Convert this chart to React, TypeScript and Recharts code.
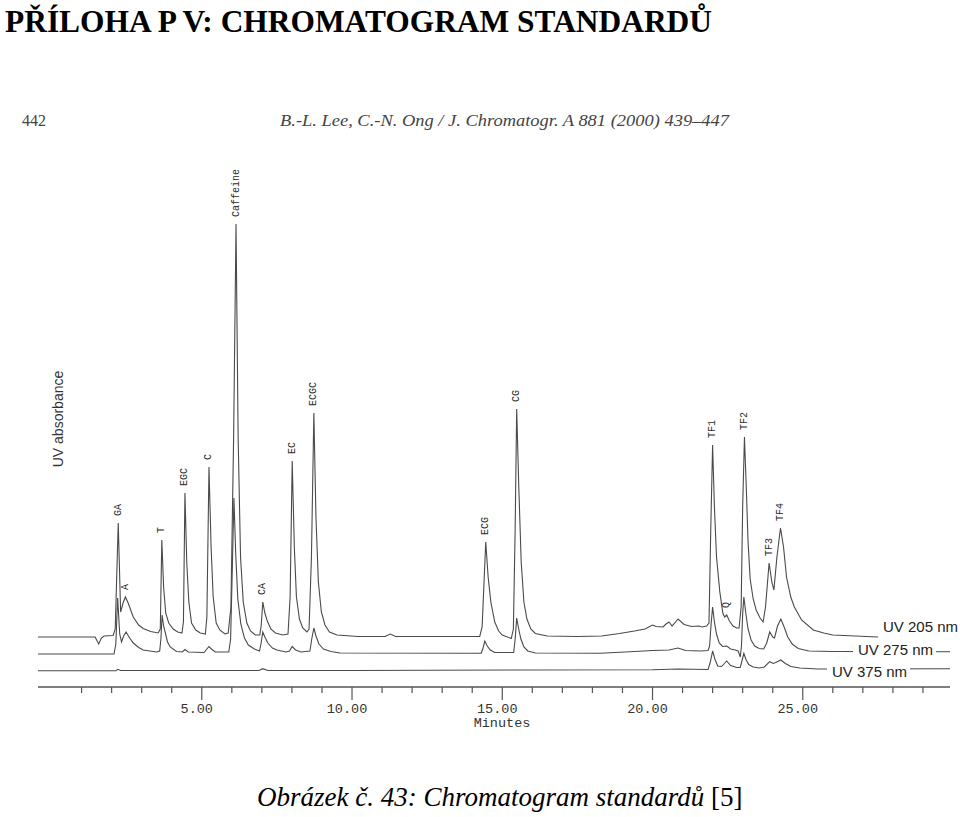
import React from 'react';
import { LineChart, Line, XAxis, YAxis, LabelList } from 'recharts';

// Chromatogram of the tea standards (Lee & Ong, J. Chromatogr. A 881 (2000) 439-447)
// each trace: [minutes, signal above its own baseline]
const UV205: [number, number][] = [
  [-0.45, 0], [1.45, 0], [1.57, -7], [1.66, -1], [1.75, 1], [2.05, 1.5],
  [2.12, 8], [2.22, 114], [2.3, 25], [2.38, 34], [2.46, 40], [2.55, 34], [2.72, 20], [2.9, 12],
  [3.05, 8.5], [3.3, 5.5], [3.55, 4],
  [3.62, 8], [3.67, 97], [3.73, 50], [3.8, 24], [3.9, 14], [4.05, 8], [4.2, 5], [4.34, 4],
  [4.39, 15], [4.44, 144], [4.5, 75], [4.57, 35], [4.66, 14], [4.8, 7], [4.95, 4], [5.12, 3],
  [5.17, 20], [5.24, 170], [5.31, 90], [5.38, 40], [5.48, 14], [5.6, 7], [5.77, 3],
  [5.88, 4], [5.97, 30], [6.06, 200], [6.14, 413], [6.21, 200], [6.29, 80], [6.38, 35], [6.5, 14],
  [6.62, 6], [6.78, 2],
  [6.93, 2], [6.98, 12], [7.03, 35], [7.1, 24], [7.18, 16], [7.3, 8], [7.45, 4], [7.7, 2],
  [7.87, 3], [7.94, 40], [8.01, 176], [8.08, 90], [8.15, 40], [8.25, 18], [8.36, 9], [8.5, 5],
  [8.57, 8], [8.65, 80], [8.73, 224], [8.8, 120], [8.88, 55], [8.98, 25], [9.1, 12], [9.25, 5], [9.5, 2],
  [10.2, 0.5], [11.1, 0.5], [11.27, 3], [11.45, 0.5],
  [14.25, 0.5], [14.33, 10], [14.45, 95], [14.53, 60], [14.62, 35], [14.75, 15], [14.88, 6], [15.0, 2], [15.3, -1.5],
  [15.37, 8], [15.43, 110], [15.48, 228], [15.55, 150], [15.63, 75], [15.72, 35], [15.82, 18], [15.95, 8],
  [16.1, 3.5], [16.5, 1],
  [17.5, 0.5], [18.3, 1], [18.9, 3.5], [19.4, 6], [19.75, 8], [20.0, 12], [20.12, 10.5], [20.35, 10],
  [20.45, 13], [20.55, 15], [20.65, 11], [20.85, 18], [21.05, 12.5], [21.3, 10.5], [21.55, 11], [21.65, 10], [21.8, 11],
  [21.88, 14], [21.94, 110], [22.0, 192], [22.06, 130], [22.13, 80], [22.24, 45], [22.34, 24], [22.4, 20],
  [22.47, 22], [22.56, 16], [22.68, 11], [22.8, 9], [22.88, 9],
  [22.95, 30], [23.0, 130], [23.06, 200], [23.12, 150], [23.18, 95], [23.25, 58], [23.35, 38], [23.45, 27],
  [23.58, 19], [23.68, 15],
  [23.76, 30], [23.88, 74], [23.97, 55], [24.04, 47], [24.14, 80], [24.26, 109], [24.36, 90], [24.46, 60],
  [24.6, 40], [24.72, 30], [24.96, 17], [25.35, 7], [25.7, 4], [26.0, 2], [27.5, 0], [29.9, 0],
];

const UV275: [number, number][] = [
  [-0.45, 0], [2.08, 0], [2.14, 10], [2.2, 56], [2.27, 20], [2.33, 12], [2.4, 18], [2.48, 22], [2.58, 17],
  [2.72, 11], [2.9, 6.5], [3.05, 4], [3.5, 2],
  [3.6, 3], [3.64, 15], [3.68, 39], [3.73, 28], [3.78, 22], [3.86, 12], [3.95, 7], [4.16, 2.5], [4.35, 2],
  [4.44, 4.5], [4.55, 2], [5.08, 1.5], [5.17, 5], [5.24, 7.5], [5.32, 5], [5.45, 2], [5.9, 2],
  [5.96, 15], [6.02, 90], [6.07, 156], [6.13, 100], [6.2, 55], [6.3, 30], [6.42, 16], [6.55, 9], [6.75, 5], [6.92, 3],
  [6.97, 10], [7.03, 22], [7.1, 17], [7.2, 11], [7.35, 6], [7.5, 4], [7.8, 2],
  [7.92, 3], [8.01, 7.5], [8.12, 4], [8.3, 2],
  [8.6, 3], [8.66, 15], [8.73, 26], [8.8, 18], [8.9, 10], [9.05, 5], [9.3, 2.5], [9.6, 1],
  [14.3, 0.7], [14.36, 6], [14.42, 13], [14.5, 8], [14.6, 4], [14.75, 1.5],
  [15.38, 1.5], [15.43, 15], [15.48, 36], [15.54, 26], [15.62, 15], [15.72, 7], [15.85, 3], [16.1, 1],
  [18.25, 0.7], [19.25, 2.3], [20.0, 3.5], [20.55, 4], [20.85, 6], [21.1, 3.5], [21.6, 3], [21.85, 3.5],
  [21.9, 8], [21.95, 30], [22.0, 47], [22.06, 32], [22.13, 20], [22.22, 11], [22.33, 7.5], [22.47, 8],
  [22.6, 5], [22.75, 4], [22.85, 3], [22.92, -3],
  [22.96, 8], [23.0, 40], [23.04, 57], [23.1, 42], [23.18, 25], [23.28, 14], [23.4, 8], [23.55, 5.5], [23.7, 5],
  [23.8, 11], [23.9, 22], [24.0, 17], [24.06, 16], [24.16, 28], [24.27, 35], [24.38, 27], [24.5, 17],
  [24.65, 10], [24.85, 5.5], [25.2, 3], [26.0, 2.5], [29.9, 2.3],
];

const UV375: [number, number][] = [
  [-0.45, -0.3], [2.15, -0.3], [2.2, 1.2], [2.3, 0], [6.9, 0], [7.03, 1.8], [7.2, 0], [10, 0],
  [15.48, 0.5], [20, 0.7], [20.85, 1.5], [21.85, 1],
  [21.92, 8], [22.0, 19.5], [22.08, 11], [22.17, 4.5], [22.3, 4], [22.47, 9.5], [22.6, 5], [22.8, 3],
  [22.92, 3], [22.98, 10], [23.04, 17], [23.11, 11], [23.2, 6], [23.35, 3.5], [23.55, 2.5], [23.72, 3.5],
  [23.9, 8.8], [24.02, 7], [24.1, 8], [24.27, 10.5], [24.42, 7], [24.6, 4], [24.9, 2.5], [25.5, 1.5], [29.9, 1.8],
];

// vertical stacking of the three detector channels
const TRACE_OFFSETS = { uv205: 50, uv275: 33, uv375: 16.5 };

const PEAK_NAMES = ['GA', 'A', 'T', 'EGC', 'C', 'Caffeine', 'CA', 'EC', 'ECGC', 'ECG', 'CG', 'TF1', 'Q', 'TF2', 'TF3', 'TF4'];
const PEAK_TIMES = [2.22, 2.46, 3.67, 4.44, 5.24, 6.14, 7.03, 8.01, 8.73, 14.45, 15.48, 22.0, 22.47, 23.06, 23.88, 24.26];

const MINUTE_TICKS = [1, 2, 3, 4, 5, 6, 7, 8, 9, 10, 11, 12, 13, 14, 15, 16, 17, 18, 19, 20, 21, 22, 23, 24, 25, 26, 27, 28, 29];

const TRACE_COLOR = '#4a4a4a';
const MONO = '"Liberation Mono", "DejaVu Sans Mono", monospace';
const SANS = '"Liberation Sans", Arial, sans-serif';
const SERIF = '"Liberation Serif", "Times New Roman", serif';

const toSeries = (pts: [number, number][], offset: number, withPeaks = false) =>
  pts.map(([t, v]) => {
    const k = withPeaks ? PEAK_TIMES.indexOf(t) : -1;
    return { t, v: v + offset, peak: k >= 0 ? PEAK_NAMES[k] : undefined };
  });

const data205 = toSeries(UV205, TRACE_OFFSETS.uv205, true);
const data275 = toSeries(UV275, TRACE_OFFSETS.uv275);
const data375 = toSeries(UV375, TRACE_OFFSETS.uv375);

const PeakLabel = (props: any) => {
  const { x, y, value } = props;
  if (!value) return null;
  const yy = y - 7;
  return (
    <text
      x={x}
      y={yy}
      transform={`rotate(-90 ${x} ${yy})`}
      textAnchor="start"
      dominantBaseline="central"
      fontFamily={MONO}
      fontSize={10}
      fill="#2b2b2b"
    >
      {value}
    </text>
  );
};

const MinuteTick = (props: any) => {
  const { x, y, payload } = props;
  const axisY = y - 6;
  const major = payload.value % 5 === 0;
  return (
    <g>
      <line x1={x} x2={x} y1={axisY} y2={axisY + (major ? 13 : 6)} stroke="#555" strokeWidth={1.2} />
      {major && (
        <text x={x - 5} y={axisY + 26} textAnchor="middle" fontFamily={MONO} fontSize={13.5} fill="#333">
          {payload.value.toFixed(2)}
        </text>
      )}
    </g>
  );
};

const TraceName = ({ x, y, w, text }: { x: number; y: number; w: number; text: string }) => (
  <g>
    <rect x={x - 5} y={y - 15} width={w + 8} height={22} fill="#fff" />
    <text x={x} y={y} fontFamily={SANS} fontSize={15} fill="#222">
      {text}
    </text>
  </g>
);

export default function App() {
  return (
    <div style={{ position: 'absolute', left: 0, top: 0, width: 960, height: 817, background: '#fff' }}>
      <div style={{ position: 'absolute', left: 0, top: 0 }}>
        <LineChart width={960} height={817} margin={{ top: 186, right: 10, bottom: 100, left: 38 }}>
          <XAxis
            dataKey="t"
            type="number"
            domain={[-0.45, 29.9]}
            allowDataOverflow
            ticks={MINUTE_TICKS}
            interval={0}
            height={30}
            tickSize={6}
            tickMargin={0}
            tickLine={false}
            tick={<MinuteTick />}
            axisLine={{ stroke: '#555', strokeWidth: 1.3 }}
          />
          <YAxis type="number" domain={[0, 501]} allowDataOverflow hide />
          <Line
            data={data375}
            dataKey="v"
            type="linear"
            stroke={TRACE_COLOR}
            strokeWidth={1.1}
            dot={false}
            activeDot={false}
            isAnimationActive={false}
          />
          <Line
            data={data275}
            dataKey="v"
            type="linear"
            stroke={TRACE_COLOR}
            strokeWidth={1.1}
            dot={false}
            activeDot={false}
            isAnimationActive={false}
          />
          <Line
            data={data205}
            dataKey="v"
            type="linear"
            stroke={TRACE_COLOR}
            strokeWidth={1.1}
            dot={false}
            activeDot={false}
            isAnimationActive={false}
          >
            <LabelList dataKey="peak" content={<PeakLabel />} />
          </Line>
        </LineChart>
      </div>
      <svg
        width={960}
        height={817}
        style={{ position: 'absolute', left: 0, top: 0, pointerEvents: 'none' }}
      >
        <text x={5} y={32} fontFamily={SERIF} fontWeight="bold" fontSize={31} textLength={707} lengthAdjust="spacingAndGlyphs" fill="#000">
          PŘÍLOHA P V: CHROMATOGRAM STANDARDŮ
        </text>
        <text x={22} y={126} fontFamily={SERIF} fontSize={16} fill="#444">
          442
        </text>
        <text x={280} y={126} fontFamily={SERIF} fontStyle="italic" fontSize={16} textLength={449} lengthAdjust="spacingAndGlyphs" fill="#444">
          B.-L. Lee, C.-N. Ong / J. Chromatogr. A 881 (2000) 439–447
        </text>
        <text
          x={63}
          y={419}
          transform="rotate(-90 63 419)"
          textAnchor="middle"
          fontFamily={SANS}
          fontSize={14}
          fill="#333"
        >
          UV absorbance
        </text>
        <TraceName x={883} y={632} w={75} text="UV 205 nm" />
        <TraceName x={858} y={655} w={75} text="UV 275 nm" />
        <TraceName x={832} y={677} w={75} text="UV 375 nm" />
        <text x={502} y={727} textAnchor="middle" fontFamily={MONO} fontSize={13.5} fill="#333">
          Minutes
        </text>
        <text x={257} y={806} fontFamily={SERIF} fontSize={27} fill="#000">
          <tspan fontStyle="italic">Obrázek č. 43: Chromatogram standardů</tspan>
          <tspan> [5]</tspan>
        </text>
      </svg>
    </div>
  );
}
